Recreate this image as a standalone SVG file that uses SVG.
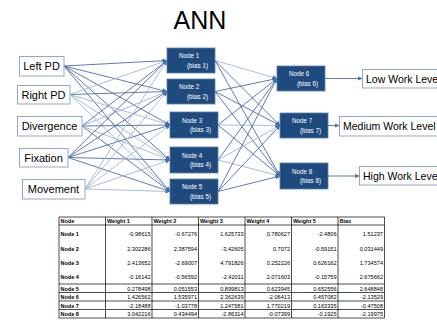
<svg xmlns="http://www.w3.org/2000/svg" width="437" height="322" viewBox="0 0 437 322">
<defs>
<marker id="ah" markerUnits="userSpaceOnUse" markerWidth="5" markerHeight="5" refX="4.5" refY="2.5" orient="auto">
<path d="M0,0.3 L5,2.5 L0,4.7 z" fill="#4a6ea8"/>
</marker>
<style>
.bg{fill:#ffffff}
.inbox{fill:#ffffff;stroke:#8ea9cf;stroke-width:1}
.intext{font-family:"Liberation Sans",Arial,sans-serif;font-size:11px;fill:#000000;text-anchor:middle}
.nbox{fill:#1f4a7d;stroke:#5a7fb0;stroke-width:0.8}
.ntext{font-family:"Liberation Sans",Arial,sans-serif;font-size:6.3px;fill:#ffffff}
.lab{fill:#ffffff;stroke:#8ea9cf;stroke-width:1}
.labtext{font-family:"Liberation Sans",Arial,sans-serif;font-size:10.5px;fill:#000000}
.c{stroke:#4a6ea8;stroke-width:0.9;fill:none;marker-end:url(#ah)}
.cl{stroke:#9fb5d8;stroke-width:0.9;fill:none;marker-end:url(#ah)}
.title{font-family:"Liberation Sans",Arial,sans-serif;font-size:25px;fill:#000000;text-anchor:middle}
.grid{stroke:#000000;stroke-width:0.7;fill:none}
.th{font-family:"Liberation Sans",Arial,sans-serif;font-size:5.5px;font-weight:bold;fill:#000000}
.td{font-family:"Liberation Sans",Arial,sans-serif;font-size:5.6px;fill:#000000;text-anchor:end}
</style>
</defs>
<rect class="bg" x="0" y="0" width="437" height="322"/>
<text class="title" x="200" y="29">ANN</text>

<g id="connectors">
<line class="c" x1="64" y1="66" x2="167" y2="60.5"/>
<line class="c" x1="64" y1="66" x2="167" y2="91.5"/>
<line class="c" x1="64" y1="66" x2="170" y2="125"/>
<line class="c" x1="64" y1="66" x2="170" y2="160"/>
<line class="c" x1="64" y1="66" x2="170" y2="191.5"/>
<line class="cl" x1="70" y1="94.5" x2="167" y2="60.5"/>
<line class="c" x1="70" y1="94.5" x2="167" y2="91.5"/>
<line class="cl" x1="70" y1="94.5" x2="170" y2="125"/>
<line class="cl" x1="70" y1="94.5" x2="170" y2="160"/>
<line class="cl" x1="70" y1="94.5" x2="170" y2="191.5"/>
<line class="c" x1="82" y1="126" x2="167" y2="60.5"/>
<line class="cl" x1="82" y1="126" x2="167" y2="91.5"/>
<line class="c" x1="82" y1="126" x2="170" y2="125"/>
<line class="cl" x1="82" y1="126" x2="170" y2="160"/>
<line class="c" x1="82" y1="126" x2="170" y2="191.5"/>
<line class="c" x1="68" y1="157.5" x2="167" y2="60.5"/>
<line class="c" x1="68" y1="157.5" x2="167" y2="91.5"/>
<line class="c" x1="68" y1="157.5" x2="170" y2="125"/>
<line class="c" x1="68" y1="157.5" x2="170" y2="160"/>
<line class="c" x1="68" y1="157.5" x2="170" y2="191.5"/>
<line class="cl" x1="85" y1="189" x2="167" y2="60.5"/>
<line class="cl" x1="85" y1="189" x2="167" y2="91.5"/>
<line class="cl" x1="85" y1="189" x2="170" y2="125"/>
<line class="cl" x1="85" y1="189" x2="170" y2="160"/>
<line class="cl" x1="85" y1="189" x2="170" y2="191.5"/>
<line class="cl" x1="215" y1="60.5" x2="277" y2="78.5"/>
<line class="c" x1="215" y1="60.5" x2="280" y2="125.5"/>
<line class="c" x1="215" y1="60.5" x2="280" y2="176"/>
<line class="c" x1="215" y1="91.5" x2="277" y2="78.5"/>
<line class="c" x1="215" y1="91.5" x2="280" y2="125.5"/>
<line class="c" x1="215" y1="91.5" x2="280" y2="176"/>
<line class="c" x1="218" y1="125" x2="277" y2="78.5"/>
<line class="cl" x1="218" y1="125" x2="280" y2="125.5"/>
<line class="c" x1="218" y1="125" x2="280" y2="176"/>
<line class="c" x1="218" y1="160" x2="277" y2="78.5"/>
<line class="cl" x1="218" y1="160" x2="280" y2="125.5"/>
<line class="cl" x1="218" y1="160" x2="280" y2="176"/>
<line class="c" x1="218" y1="191.5" x2="277" y2="78.5"/>
<line class="c" x1="218" y1="191.5" x2="280" y2="125.5"/>
<line class="c" x1="218" y1="191.5" x2="280" y2="176"/>
<line class="c" x1="325" y1="78.5" x2="362" y2="78.5"/>
<line class="c" x1="328" y1="125.5" x2="339" y2="125.5"/>
<line class="c" x1="328" y1="176" x2="359" y2="176"/>
</g>

<g id="in-leftpd"><rect class="inbox" x="19.5" y="56.5" width="44.5" height="19.5"/><text class="intext" x="41.5" y="70">Left PD</text></g>
<g id="in-rightpd"><rect class="inbox" x="17.5" y="85.5" width="52.5" height="18.5"/><text class="intext" x="43.5" y="98.5">Right PD</text></g>
<g id="in-divergence"><rect class="inbox" x="17.5" y="116.5" width="64.5" height="19.5"/><text class="intext" x="49.5" y="130">Divergence</text></g>
<g id="in-fixation"><rect class="inbox" x="19.5" y="148.5" width="48.5" height="18.5"/><text class="intext" x="43.5" y="161.5">Fixation</text></g>
<g id="in-movement"><rect class="inbox" x="22.5" y="179.5" width="62.5" height="19.5"/><text class="intext" x="53.5" y="193">Movement</text></g>

<g id="node1"><rect class="nbox" x="167" y="48" width="48" height="25"/><text class="ntext" x="179" y="58">Node 1</text><text class="ntext" x="187" y="67.5">(bias 1)</text></g>
<g id="node2"><rect class="nbox" x="167" y="79" width="48" height="25"/><text class="ntext" x="179" y="89">Node 2</text><text class="ntext" x="187" y="98.5">(bias 2)</text></g>
<g id="node3"><rect class="nbox" x="170" y="112" width="48" height="26"/><text class="ntext" x="182" y="122.5">Node 3</text><text class="ntext" x="190" y="132">(bias 3)</text></g>
<g id="node4"><rect class="nbox" x="170" y="147" width="48" height="26"/><text class="ntext" x="182" y="157.5">Node 4</text><text class="ntext" x="190" y="167">(bias 4)</text></g>
<g id="node5"><rect class="nbox" x="170" y="179" width="48" height="25"/><text class="ntext" x="182" y="189">Node 5</text><text class="ntext" x="190" y="198.5">(bias 5)</text></g>
<g id="node6"><rect class="nbox" x="277" y="66" width="48" height="25"/><text class="ntext" x="289" y="76">Node 6</text><text class="ntext" x="297" y="85.5">(bias 6)</text></g>
<g id="node7"><rect class="nbox" x="280" y="113" width="48" height="25"/><text class="ntext" x="292" y="123">Node 7</text><text class="ntext" x="300" y="132.5">(bias 7)</text></g>
<g id="node8"><rect class="nbox" x="280" y="163" width="48" height="26"/><text class="ntext" x="292" y="173.5">Node 8</text><text class="ntext" x="300" y="183">(bias 8)</text></g>

<g id="out-low"><rect class="lab" x="362.5" y="69.5" width="90" height="18.5"/><text class="labtext" x="366" y="82.5">Low Work Level</text></g>
<g id="out-medium"><rect class="lab" x="339.5" y="116.5" width="110" height="19.5"/><text class="labtext" x="343" y="130">Medium Work Level</text></g>
<g id="out-high"><rect class="lab" x="359.5" y="166.5" width="90" height="18.5"/><text class="labtext" x="363" y="179.5">High Work Level</text></g>

<g id="table">
<rect class="grid" x="59" y="217" width="325.5" height="101"/>
<line class="grid" x1="105.5" y1="217" x2="105.5" y2="318"/>
<line class="grid" x1="152" y1="217" x2="152" y2="318"/>
<line class="grid" x1="198.5" y1="217" x2="198.5" y2="318"/>
<line class="grid" x1="245" y1="217" x2="245" y2="318"/>
<line class="grid" x1="291.5" y1="217" x2="291.5" y2="318"/>
<line class="grid" x1="338" y1="217" x2="338" y2="318"/>
<line class="grid" x1="59" y1="225" x2="384.5" y2="225"/>
<line class="grid" x1="59" y1="284" x2="384.5" y2="284"/>
<line class="grid" x1="59" y1="292.5" x2="384.5" y2="292.5"/>
<line class="grid" x1="59" y1="301" x2="384.5" y2="301"/>
<line class="grid" x1="59" y1="309.5" x2="384.5" y2="309.5"/>
<text class="th" x="60.5" y="223">Node</text>
<text class="th" x="107" y="223">Weight 1</text>
<text class="th" x="153.5" y="223">Weight 2</text>
<text class="th" x="200" y="223">Weight 3</text>
<text class="th" x="246.5" y="223">Weight 4</text>
<text class="th" x="293" y="223">Weight 5</text>
<text class="th" x="339.5" y="223">Bias</text>

<text class="th" x="60.5" y="236">Node 1</text>
<text class="td" x="150.5" y="236">-0.98615</text><text class="td" x="197" y="236">-0.67276</text><text class="td" x="243.5" y="236">1.625733</text><text class="td" x="290" y="236">0.780627</text><text class="td" x="336.5" y="236">-2.4806</text><text class="td" x="383" y="236">1.51237</text>
<text class="th" x="60.5" y="251">Node 2</text>
<text class="td" x="150.5" y="251">2.302286</text><text class="td" x="197" y="251">2.387594</text><text class="td" x="243.5" y="251">-3.42605</text><text class="td" x="290" y="251">0.7072</text><text class="td" x="336.5" y="251">-0.59151</text><text class="td" x="383" y="251">0.031449</text>
<text class="th" x="60.5" y="265">Node 3</text>
<text class="td" x="150.5" y="265">2.413652</text><text class="td" x="197" y="265">-2.69007</text><text class="td" x="243.5" y="265">4.791826</text><text class="td" x="290" y="265">0.252226</text><text class="td" x="336.5" y="265">0.626162</text><text class="td" x="383" y="265">1.734574</text>
<text class="th" x="60.5" y="279">Node 4</text>
<text class="td" x="150.5" y="279">-0.16142</text><text class="td" x="197" y="279">-0.56592</text><text class="td" x="243.5" y="279">-2.42011</text><text class="td" x="290" y="279">2.071603</text><text class="td" x="336.5" y="279">-0.15759</text><text class="td" x="383" y="279">2.675662</text>
<text class="th" x="60.5" y="290.5">Node 5</text>
<text class="td" x="150.5" y="290.5">0.278498</text><text class="td" x="197" y="290.5">0.051553</text><text class="td" x="243.5" y="290.5">0.899813</text><text class="td" x="290" y="290.5">0.623945</text><text class="td" x="336.5" y="290.5">0.652556</text><text class="td" x="383" y="290.5">2.648848</text>
<text class="th" x="60.5" y="299">Node 6</text>
<text class="td" x="150.5" y="299">1.426562</text><text class="td" x="197" y="299">1.535971</text><text class="td" x="243.5" y="299">2.362639</text><text class="td" x="290" y="299">-2.06413</text><text class="td" x="336.5" y="299">0.457082</text><text class="td" x="383" y="299">-2.13529</text>
<text class="th" x="60.5" y="307.5">Node 7</text>
<text class="td" x="150.5" y="307.5">-2.18488</text><text class="td" x="197" y="307.5">-1.03778</text><text class="td" x="243.5" y="307.5">1.247581</text><text class="td" x="290" y="307.5">1.770219</text><text class="td" x="336.5" y="307.5">0.163335</text><text class="td" x="383" y="307.5">-0.47508</text>
<text class="th" x="60.5" y="316">Node 8</text>
<text class="td" x="150.5" y="316">3.042216</text><text class="td" x="197" y="316">0.434494</text><text class="td" x="243.5" y="316">-2.86314</text><text class="td" x="290" y="316">-0.07399</text><text class="td" x="336.5" y="316">-0.1925</text><text class="td" x="383" y="316">-2.19975</text>
</g>
</svg>
